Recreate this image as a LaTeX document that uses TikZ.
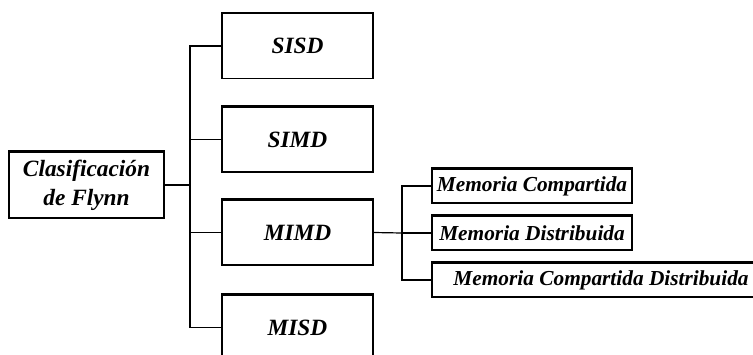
\documentclass[tikz,border=0pt]{standalone}
\usepackage{fontspec}
\setmainfont{Liberation Serif}
\begin{document}
\begin{tikzpicture}[
  x=0.75pt, y=-0.75pt,
  caja/.style={draw, line width=1pt, inner sep=0pt, anchor=center, font=\fontsize{17.5}{21.5}\selectfont\bfseries\itshape},
  nivel/.style={caja, minimum width=113.25pt, minimum height=48.75pt},
  memo/.style={caja, minimum width=150pt, minimum height=25.5pt, font=\fontsize{16}{19}\selectfont\bfseries\itshape},
  rama/.style={line width=0.9pt}
]
\useasboundingbox (0,0) rectangle (753,354);
% raiz
\node[caja, minimum width=116.25pt, minimum height=49.5pt, align=center] (clas) at (86.5,185) {Clasificación\\de Flynn};
% primer nivel
\foreach \nom/\y in {sisd/46, simd/139.5, mimd/232.5, misd/327.5}
  \node[nivel] (\nom) at (297.5,\y) {\MakeUppercase{\nom}};
% segundo nivel
\node[memo] (mc) at (532,186) {Memoria Compartida};
\node[memo] (md) at (532,233) {Memoria Distribuida};
\node[memo, minimum width=253.5pt] (mcd) at (601,280) {Memoria Compartida Distribuida};
% borde superior grueso
\foreach \n in {clas, sisd, simd, mimd, misd, mc, md, mcd}
  \draw[line width=2pt] (\n.north west) -- (\n.north east);
% conectores
\coordinate (j1) at (190,185);
\coordinate (j2) at (402,233);
\draw[rama] (clas.east) -- (j1);
\foreach \n in {sisd, simd, mimd, misd}
  \draw[rama] (\n.west) -| (j1);
\draw[rama] (mimd.east) -- (j2);
\foreach \n in {mc, md, mcd}
  \draw[rama] (\n.west) -| (j2);
\end{tikzpicture}
\end{document}
